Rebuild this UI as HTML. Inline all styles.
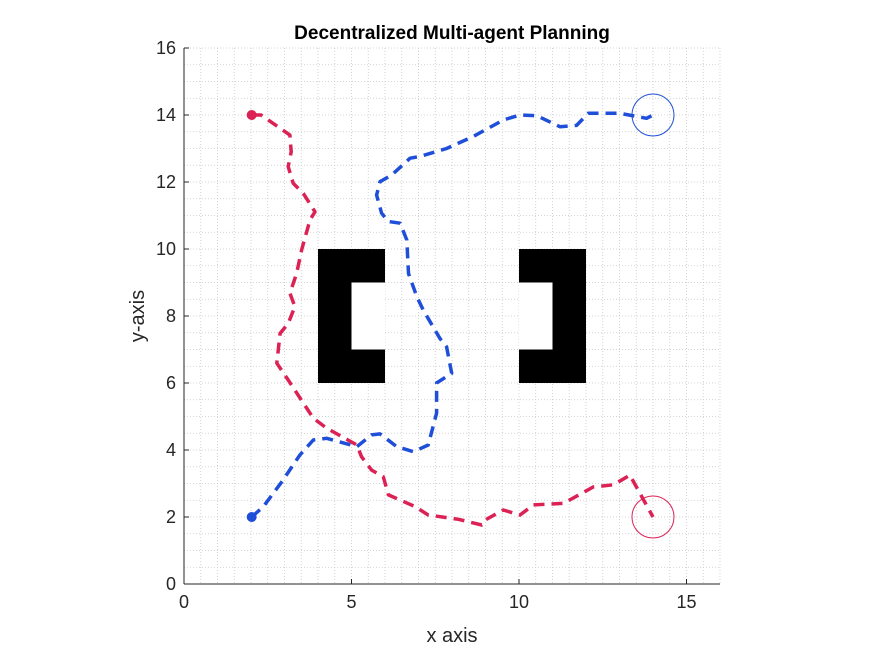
<!DOCTYPE html>
<html><head><meta charset="utf-8"><style>
html,body{margin:0;padding:0;background:#fff;}
svg{display:block;font-family:"Liberation Sans",sans-serif;}
</style></head><body>
<svg id="chart" width="875" height="656" viewBox="0 0 875 656">
<g id="grid"></g>
<g id="obs"></g>
<g id="paths"></g>
<g id="axes"></g>
<text x="452" y="39" text-anchor="middle" font-size="19" font-weight="bold" fill="#000">Decentralized Multi-agent Planning</text>
<text x="452" y="642" text-anchor="middle" font-size="20" fill="#262626">x axis</text>
<text transform="translate(144,316) rotate(-90)" text-anchor="middle" font-size="20" fill="#262626">y-axis</text>
</svg>
<script>
const xTicks=[0,5,10,15];
const yTicks=[0,2,4,6,8,10,12,14,16];
const redX=[2.02,2.3,3.16,3.2,3.11,3.26,3.56,3.91,3.76,3.51,3.36,3.16,3.31,3.11,2.87,2.77,3.11,3.86,4.26,5.16,5.3,5.6,5.95,6.1,6.9,7.29,8.19,8.89,8.99,9.53,10.03,10.43,11.33,12.22,12.82,13.31,14.0];
const redY=[14.0,14.0,13.4,12.9,12.46,11.96,11.66,11.11,10.87,9.97,9.27,8.68,8.28,7.78,7.48,6.59,6.09,4.95,4.65,4.15,3.8,3.4,3.2,2.66,2.31,2.06,1.93,1.76,1.91,2.21,2.06,2.36,2.41,2.9,2.96,3.25,2.0];
const blueX=[2.02,2.37,2.92,3.46,3.86,4.26,5.16,5.6,5.85,6.35,6.85,7.29,7.54,7.54,7.99,7.84,7.64,7.14,6.95,6.7,6.65,6.45,6.1,5.9,5.75,5.85,6.2,6.75,7.04,7.84,8.64,9.53,10.03,10.53,11.22,11.72,12.07,13.01,13.81,14.0];
const blueY=[2.0,2.31,3.05,3.85,4.3,4.35,4.1,4.45,4.48,4.1,3.95,4.15,5.1,6.0,6.29,7.08,7.33,8.18,8.58,9.27,10.27,10.77,10.82,11.07,11.61,12.01,12.21,12.71,12.76,13.0,13.36,13.85,14.0,13.98,13.65,13.69,14.05,14.05,13.9,14.0];
const obstacleRects=[[4,6,2,4],[10,6,2,4]];
const obstacleGaps=[[5,7,1,2],[10,7,1,2]];
const goals=[[14,14],[14,2]];
const X0=184,X1=720,Y0=584,Y1=48;
const sx=v=>X0+(v/16)*(X1-X0), sy=v=>Y0-(v/16)*(Y0-Y1);
const NS="http://www.w3.org/2000/svg";
function mk(t,a,p){const e=document.createElementNS(NS,t);for(const k in a)e.setAttribute(k,a[k]);p.appendChild(e);return e;}
const grid=document.getElementById('grid');
for(let v=0.5;v<=16;v+=0.5){
 let l=mk('line',{x1:sx(v),x2:sx(v),y1:Y1,y2:Y0,stroke:'#c8c8c8','stroke-width':0.8,'stroke-dasharray':'1,2'},grid);
 
 
 let m=mk('line',{x1:X0,x2:X1,y1:sy(v),y2:sy(v),stroke:'#c8c8c8','stroke-width':0.8,'stroke-dasharray':'1,2'},grid);
 
 
}
const obs=document.getElementById('obs');
obstacleRects.forEach(r=>{const e=mk('rect',{x:sx(r[0]),y:sy(r[1]+r[3]),width:sx(r[2])-sx(0),height:sy(0)-sy(r[3]),fill:'#000'},obs);
 
 });
obstacleGaps.forEach(r=>{const e=mk('rect',{x:sx(r[0]),y:sy(r[1]+r[3]),width:sx(r[2])-sx(0),height:sy(0)-sy(r[3]),fill:'#fff'},obs);
 
 });
const paths=document.getElementById('paths');
function drawPath(xs,ys,col,name){
 const d=xs.map((x,i)=>(i?'L':'M')+sx(x).toFixed(1)+','+sy(ys[i]).toFixed(1)).join(' ');
 const p=mk('path',{d:d,fill:'none',stroke:col,'stroke-width':3.5,'stroke-dasharray':'11,7','stroke-linejoin':'round'},paths);
 
 
 const c=mk('circle',{cx:sx(xs[0]),cy:sy(ys[0]),r:5,fill:col},paths);
 
 
}
drawPath(redX,redY,'#dc2155','red-agent');
drawPath(blueX,blueY,'#1f4fd8','blue-agent');
const gcol=['#1f4fd8','#dc2155'];
goals.forEach((g,i)=>{const c=mk('circle',{cx:sx(g[0]),cy:sy(g[1]),r:21,fill:'none',stroke:gcol[i],'stroke-width':1},paths);
 
 });
const ax=document.getElementById('axes');
mk('line',{x1:X0,x2:X0,y1:Y1,y2:Y0,stroke:'#262626','stroke-width':1},ax);
mk('line',{x1:X0,x2:X1,y1:Y0,y2:Y0,stroke:'#262626','stroke-width':1},ax);
xTicks.forEach(v=>{mk('line',{x1:sx(v),x2:sx(v),y1:Y0,y2:Y0-5,stroke:'#262626'},ax);
 const t=mk('text',{x:sx(v),y:Y0+24,'text-anchor':'middle','font-size':18,fill:'#262626'},ax);t.textContent=v;
 
 });
yTicks.forEach(v=>{mk('line',{x1:X0,x2:X0+5,y1:sy(v),y2:sy(v),stroke:'#262626'},ax);
 const t=mk('text',{x:X0-8,y:sy(v)+6,'text-anchor':'end','font-size':18,fill:'#262626'},ax);t.textContent=v;
 
 });
</script>
</body></html>
